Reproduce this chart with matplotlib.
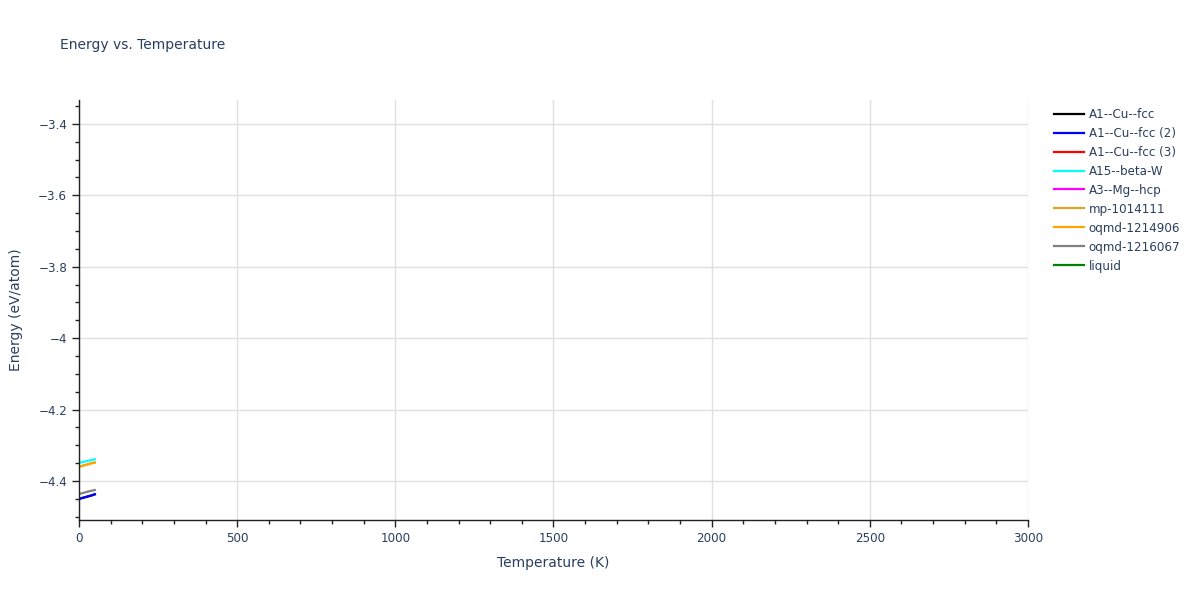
import matplotlib
matplotlib.use("Agg")
import matplotlib.pyplot as plt
from matplotlib.lines import Line2D
from matplotlib.ticker import MultipleLocator, FuncFormatter

plt.rcParams['font.family'] = ['DejaVu Sans']

temps = [0, 10, 20, 30, 40, 50]
names = ["A1--Cu--fcc", "A1--Cu--fcc (2)", "A1--Cu--fcc (3)", "A15--beta-W",
         "A3--Mg--hcp", "mp-1014111", "oqmd-1214906", "oqmd-1216067", "liquid"]
colors = ["black", "blue", "red", "cyan", "magenta", "goldenrod", "orange", "gray", "green"]

e_a1 = [-4.450, -4.4475, -4.445, -4.4425, -4.440, -4.437]
e_a1_2 = [-4.450, -4.4475, -4.445, -4.4425, -4.440, -4.437]
e_a1_3 = []
e_a15 = [-4.349, -4.347, -4.345, -4.343, -4.341, -4.339]
e_a3 = []
e_mp = [-4.360, -4.3575, -4.355, -4.3525, -4.350, -4.348]
e_oq1 = [-4.360, -4.3575, -4.355, -4.3525, -4.350, -4.348]
e_oq2 = [-4.436, -4.434, -4.4315, -4.429, -4.427, -4.425]
e_liq = []
series = [e_a1, e_a1_2, e_a1_3, e_a15, e_a3, e_mp, e_oq1, e_oq2, e_liq]

W, H = 1200, 600
fig = plt.figure(figsize=(12, 6), dpi=100)
ax = fig.add_axes([79 / W, 1 - 520 / H, (1028 - 79) / W, (520 - 100) / H])

for name, c, ys in zip(names, colors, series):
    ax.plot(temps[:len(ys)], ys, color=c, lw=1.6, label=name)

ax.set_xlim(0, 3000)
ax.set_ylim(-4.509, -3.333)
ax.xaxis.set_major_locator(MultipleLocator(500))
ax.xaxis.set_minor_locator(MultipleLocator(100))
ax.yaxis.set_major_locator(MultipleLocator(0.2))
ax.yaxis.set_minor_locator(MultipleLocator(0.05))

def yfmt(v, p):
    s = f"{v:.1f}"
    if s.endswith(".0"):
        s = s[:-2]
    return s.replace("-", "\u2212")
ax.yaxis.set_major_formatter(FuncFormatter(yfmt))
ax.xaxis.set_major_formatter(FuncFormatter(lambda v, p: f"{int(v)}"))

txt = "#2a3f5f"
ax.grid(True, which='major', color='#e0e0e0', lw=1)
ax.set_axisbelow(True)
for s in ["top", "right"]:
    ax.spines[s].set_visible(False)
for s in ["left", "bottom"]:
    ax.spines[s].set_color("#222222")
    ax.spines[s].set_linewidth(1)
ax.tick_params(which='major', direction='out', length=5, color='#222222', labelsize=8.6, labelcolor=txt, width=1)
ax.tick_params(which='minor', direction='out', length=3, color='#222222', width=1)

ax.set_xlabel("Temperature (K)", fontsize=10, color=txt, labelpad=8)
ax.set_ylabel("Energy (eV/atom)", fontsize=10, color=txt, labelpad=11)
fig.text(60.5 / W, 1 - 45 / H, "Energy vs. Temperature", fontsize=10, color=txt, va='center', ha='left')

handles = [Line2D([0], [0], color=c, lw=1.6) for c in colors]
leg = fig.legend(handles, names, loc='upper left', bbox_to_anchor=(1049 / W, 1 - 103 / H),
                 frameon=False, fontsize=8.6, handlelength=2.5, handletextpad=0.42,
                 labelspacing=0.5, borderaxespad=0)
for t in leg.get_texts():
    t.set_color(txt)

fig.savefig("out.png", dpi=100)
